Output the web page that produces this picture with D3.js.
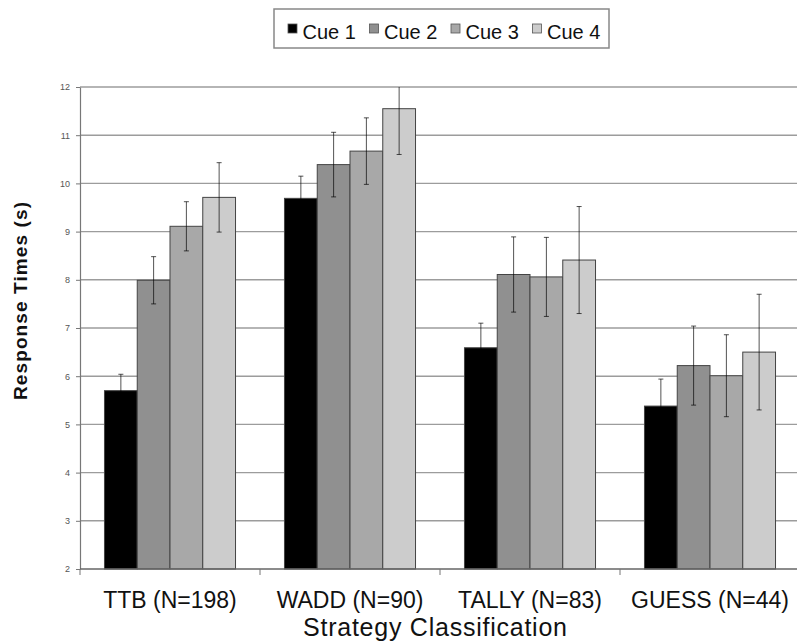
<!DOCTYPE html>
<html>
<head>
<meta charset="utf-8">
<script src="https://cdn.jsdelivr.net/npm/d3@7"></script>
<style>
  body { margin: 0; background: #fff; }
  text { font-family: "Liberation Sans", Arial, sans-serif; }
</style>
</head>
<body>
<div id="canvas"></div>
<script>
"use strict"

/* Data */
let strategies = ["TTB (N=198)", "WADD (N=90)", "TALLY (N=83)", "GUESS (N=44)"];
let cues = ["Cue 1", "Cue 2", "Cue 3", "Cue 4"];

// mean response time per strategy, one array per cue
let cue1Means = [5.70, 9.69, 6.59, 5.38];
let cue2Means = [7.99, 10.39, 8.11, 6.22];
let cue3Means = [9.11, 10.67, 8.06, 6.01];
let cue4Means = [9.71, 11.55, 8.41, 6.50];

// half-length of the error bars
let cue1Err = [0.34, 0.46, 0.51, 0.56];
let cue2Err = [0.49, 0.67, 0.78, 0.82];
let cue3Err = [0.51, 0.69, 0.82, 0.85];
let cue4Err = [0.72, 0.95, 1.11, 1.20];

let yTicks = [2, 3, 4, 5, 6, 7, 8, 9, 10, 11, 12];

let cueColors = ["#000000", "#909090", "#a8a8a8", "#cccccc"];

/* Configuration variables: drawing */
let svgWidth = 797;
let svgHeight = 642;
let plotLeft = 80;
let plotRight = 800;   // the plot runs off the right edge in the original
let plotTop = 87;
let plotBottom = 569;

let svg = d3.select("#canvas")
    .append("svg")
    .attr("width", svgWidth)
    .attr("height", svgHeight);

/* Build one row per bar from the arrays */
let allMeans = [cue1Means, cue2Means, cue3Means, cue4Means];
let allErr = [cue1Err, cue2Err, cue3Err, cue4Err];
let bars = [];
strategies.forEach(function (s, i) {
    cues.forEach(function (c, j) {
        bars.push({ strategy: s, cue: c, mean: allMeans[j][i], err: allErr[j][i] });
    });
});

/* Scales */
let xScale = d3.scaleBand()
    .domain(strategies)
    .range([plotLeft, plotRight])
    .paddingInner(0.272)
    .paddingOuter(0.136);

let cueScale = d3.scaleBand()
    .domain(cues)
    .range([0, xScale.bandwidth()]);

let yScale = d3.scaleLinear()
    .domain([2, 12])
    .range([plotBottom, plotTop]);

let colorScale = d3.scaleOrdinal()
    .domain(cues)
    .range(cueColors);

/* Grid lines */
svg.append("g")
    .selectAll("line")
    .data(yTicks.slice(1))
    .join("line")
    .attr("x1", plotLeft)
    .attr("x2", svgWidth)
    .attr("y1", function (d) { return yScale(d); })
    .attr("y2", function (d) { return yScale(d); })
    .attr("stroke", "#9c9c9c")
    .attr("stroke-width", 1.4);

/* Y axis */
let yAxis = d3.axisLeft(yScale)
    .tickValues(yTicks)
    .tickSize(4)
    .tickSizeOuter(0);

let yAxisG = svg.append("g")
    .attr("transform", "translate(" + plotLeft + ",0)")
    .call(yAxis);
yAxisG.select(".domain").attr("stroke", "#777").attr("stroke-width", 1.2);
yAxisG.selectAll(".tick line").attr("stroke", "#777");
yAxisG.selectAll(".tick text")
    .attr("x", -10)
    .attr("fill", "#555")
    .style("font-size", "9px");

/* Bars */
svg.append("g")
    .selectAll("rect")
    .data(bars)
    .join("rect")
    .attr("x", function (d) { return xScale(d.strategy) + cueScale(d.cue); })
    .attr("y", function (d) { return yScale(d.mean); })
    .attr("width", cueScale.bandwidth())
    .attr("height", function (d) { return yScale(2) - yScale(d.mean); })
    .attr("fill", function (d) { return colorScale(d.cue); })
    .attr("stroke", "#444")
    .attr("stroke-width", 1);

/* Error bars (clipped at the top of the axis like the original) */
function errTop(d) { return yScale(Math.min(12, d.mean + d.err)); }
function errBottom(d) { return yScale(d.mean - d.err); }
function barMid(d) { return xScale(d.strategy) + cueScale(d.cue) + cueScale.bandwidth() / 2; }

// thin black lines that look grey on white and vanish on the black bars
let errG = svg.append("g")
    .attr("stroke", "#000")
    .attr("stroke-opacity", 0.68)
    .attr("stroke-width", 1);

errG.selectAll("line.whisker")
    .data(bars)
    .join("line")
    .attr("class", "whisker")
    .attr("x1", barMid)
    .attr("x2", barMid)
    .attr("y1", errTop)
    .attr("y2", errBottom);

errG.selectAll("line.capTop")
    .data(bars.filter(function (d) { return d.mean + d.err <= 12; }))
    .join("line")
    .attr("class", "capTop")
    .attr("x1", function (d) { return barMid(d) - 2.5; })
    .attr("x2", function (d) { return barMid(d) + 2.5; })
    .attr("y1", errTop)
    .attr("y2", errTop);

errG.selectAll("line.capBottom")
    .data(bars)
    .join("line")
    .attr("class", "capBottom")
    .attr("x1", function (d) { return barMid(d) - 2.5; })
    .attr("x2", function (d) { return barMid(d) + 2.5; })
    .attr("y1", errBottom)
    .attr("y2", errBottom);

/* X axis: ticks sit between the groups */
let boundaries = strategies.map(function (s) { return xScale(s) - xScale.step() * xScale.paddingInner() / 2; });

svg.append("line")
    .attr("x1", plotLeft)
    .attr("x2", svgWidth)
    .attr("y1", plotBottom)
    .attr("y2", plotBottom)
    .attr("stroke", "#666")
    .attr("stroke-width", 1.4);

svg.append("g")
    .selectAll("line")
    .data(boundaries)
    .join("line")
    .attr("x1", function (d) { return d; })
    .attr("x2", function (d) { return d; })
    .attr("y1", plotBottom)
    .attr("y2", plotBottom + 6)
    .attr("stroke", "#777");

svg.append("g")
    .selectAll("text")
    .data(strategies)
    .join("text")
    .attr("x", function (d) { return xScale(d) + xScale.bandwidth() / 2; })
    .attr("y", 608)
    .attr("text-anchor", "middle")
    .attr("fill", "#111")
    .style("font-size", "23px")
    .text(function (d) { return d; });

/* Axis titles */
svg.append("text")
    .attr("x", 435)
    .attr("y", 636)
    .attr("text-anchor", "middle")
    .attr("fill", "#111")
    .attr("textLength", 264)
    .style("font-size", "25px")
    .text("Strategy Classification");

svg.append("text")
    .attr("transform", "translate(27,301) rotate(-90)")
    .attr("text-anchor", "middle")
    .attr("fill", "#111")
    .attr("textLength", 198)
    .style("font-size", "19px")
    .style("font-weight", "bold")
    .text("Response Times (s)");

/* Legend */
let legendX = 288;
let legendSpacing = 81.5;

svg.append("rect")
    .attr("x", 274)
    .attr("y", 9)
    .attr("width", 335)
    .attr("height", 39)
    .attr("fill", "#fff")
    .attr("stroke", "#888")
    .attr("stroke-width", 1.5);

let legendItems = svg.append("g")
    .selectAll("g")
    .data(cues)
    .join("g")
    .attr("transform", function (d, i) { return "translate(" + (legendX + i * legendSpacing) + ",0)"; });

legendItems.append("rect")
    .attr("x", 0)
    .attr("y", 24)
    .attr("width", 9)
    .attr("height", 9)
    .attr("fill", function (d) { return colorScale(d); })
    .attr("stroke", "#555")
    .attr("stroke-width", 0.8);

legendItems.append("text")
    .attr("x", 14.5)
    .attr("y", 39)
    .attr("fill", "#111")
    .style("font-size", "20px")
    .text(function (d) { return d; });
</script>
</body>
</html>
